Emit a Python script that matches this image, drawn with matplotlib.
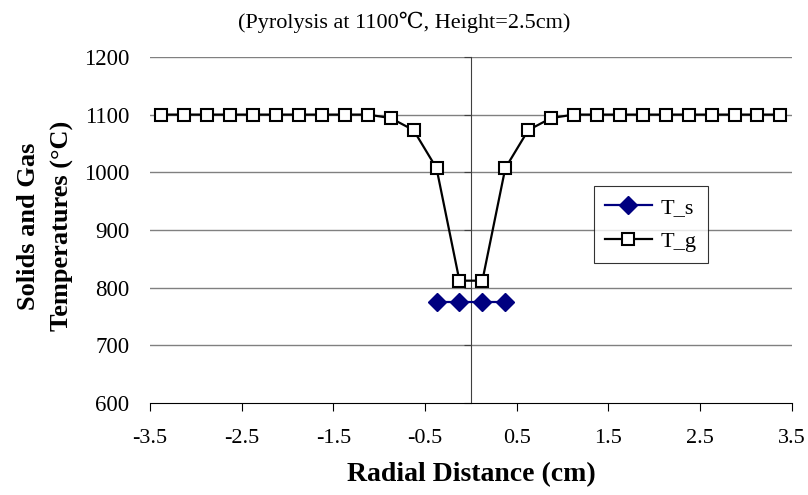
import matplotlib
matplotlib.use("Agg")
import matplotlib.pyplot as plt
import numpy as np

plt.rcParams['font.family'] = ['Liberation Serif', 'DejaVu Serif']

# radial positions (cm) and temperatures (C)
r_gas = [-3.375, -3.125, -2.875, -2.625, -2.375, -2.125, -1.875, -1.625,
         -1.375, -1.125, -0.875, -0.625, -0.375, -0.125, 0.125, 0.375,
         0.625, 0.875, 1.125, 1.375, 1.625, 1.875, 2.125, 2.375, 2.625,
         2.875, 3.125, 3.375]
t_gas = [1100, 1100, 1100, 1100, 1100, 1100, 1100, 1100, 1100, 1100,
         1094, 1073, 1007, 812, 812, 1007, 1073, 1094, 1100, 1100, 1100,
         1100, 1100, 1100, 1100, 1100, 1100, 1100]
r_sol = [-0.375, -0.125, 0.125, 0.375]
t_sol = [775, 775, 775, 775]

x_ticks = [-3.5, -2.5, -1.5, -0.5, 0.5, 1.5, 2.5, 3.5]
x_tick_labels = ['-3.5', '-2.5', '-1.5', '-0.5', '0.5', '1.5', '2.5', '3.5']
y_ticks = [600, 700, 800, 900, 1000, 1100, 1200]

fig = plt.figure(figsize=(8.08, 4.95), dpi=100)
pos = [0.1856, 0.186, 0.7944, 0.699]
ax = fig.add_axes(pos)

ax.set_xlim(-3.5, 3.5)
ax.set_ylim(600, 1200)

# gridlines
for y in y_ticks[1:]:
    ax.axhline(y, color='#808080', lw=1.0, zorder=0)

ax.plot(r_sol, t_sol, color='#000080', lw=1.6, marker='D', ms=9,
        mfc='#000080', mec='#000080', label='T_s', zorder=3)
ax.plot(r_gas, t_gas, color='black', lw=1.6, marker='s', ms=8.5,
        mfc='white', mec='black', mew=1.5, label='T_g', zorder=3)

# y axis crosses at x=0
for s in ['top', 'right']:
    ax.spines[s].set_visible(False)
ax.spines['left'].set_position(('data', 0))
ax.spines['left'].set_color('#404040')
ax.spines['bottom'].set_color('black')
ax.set_yticks(y_ticks)
ax.tick_params(axis='y', direction='out', length=5, color='#404040',
               labelleft=False)
ax.set_xticks(x_ticks)
ax.set_xticklabels(x_tick_labels)
ax.tick_params(axis='x', direction='out', length=6, labelsize=16, pad=13)

# separate axis for y tick labels at the left edge
ax_lab = fig.add_axes(pos, sharey=ax, frameon=False)
ax_lab.patch.set_visible(False)
ax_lab.set_xticks([])
ax_lab.tick_params(axis='y', length=0, labelsize=16.5, pad=15)

ax.set_xlabel('Radial Distance (cm)', fontsize=20, fontweight='bold',
              labelpad=10)
fig.text(0.056, 0.543, 'Solids and Gas\nTemperatures (\u00b0C)', fontsize=19,
         fontweight='bold', rotation=90, ha='center', va='center',
         linespacing=1.6, multialignment='center')
fig.text(0.5, 0.955, '(Pyrolysis at 1100\u2103, Height=2.5cm)',
         ha='center', va='center', fontsize=16)

leg = ax.legend(loc='upper left', bbox_to_anchor=(0.6916, 0.627),
                borderaxespad=0, fontsize=16, frameon=True, fancybox=False,
                edgecolor='black', handlelength=2.1, borderpad=0.5,
                labelspacing=0.6, handletextpad=0.4)
leg.get_frame().set_linewidth(0.8)

fig.savefig('out.png', dpi=100)
